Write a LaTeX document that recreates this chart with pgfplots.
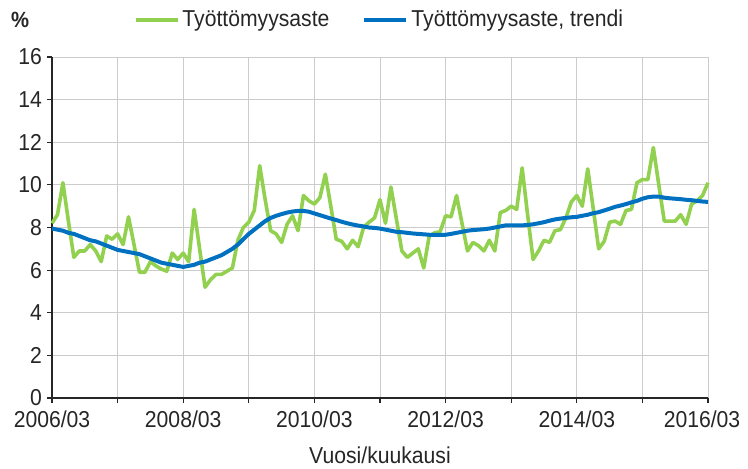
\documentclass[border=0pt]{standalone}
\usepackage{fontspec}
\setmainfont{Liberation Sans}[FakeStretch=0.92]
\usepackage{pgfplots}
\pgfplotsset{compat=1.18}
\usepackage{pgfplotstable}
\definecolor{ugreen}{HTML}{92D050}
\definecolor{ublue}{HTML}{0070C0}
\pgfplotstableread{
i u t
0 8.2 7.95
1 8.6 7.9
2 10.1 7.85
3 8.3 7.75
4 6.6 7.7
5 6.9 7.6
6 6.9 7.5
7 7.2 7.4
8 6.9 7.35
9 6.4 7.25
10 7.6 7.15
11 7.45 7.05
12 7.7 6.95
13 7.2 6.9
14 8.5 6.85
15 7.2 6.8
16 5.9 6.75
17 5.9 6.65
18 6.4 6.55
19 6.2 6.45
20 6.05 6.35
21 5.95 6.3
22 6.8 6.25
23 6.5 6.2
24 6.8 6.15
25 6.4 6.2
26 8.85 6.25
27 7.0 6.35
28 5.2 6.4
29 5.55 6.5
30 5.8 6.6
31 5.8 6.7
32 5.95 6.85
33 6.1 7.0
34 7.4 7.2
35 8.0 7.45
36 8.25 7.7
37 8.8 7.9
38 10.9 8.1
39 9.3 8.3
40 7.85 8.45
41 7.7 8.55
42 7.3 8.63
43 8.15 8.7
44 8.55 8.75
45 7.85 8.78
46 9.5 8.78
47 9.25 8.74
48 9.1 8.66
49 9.4 8.58
50 10.5 8.5
51 9.0 8.42
52 7.45 8.35
53 7.35 8.27
54 7.0 8.2
55 7.4 8.14
56 7.1 8.09
57 8.0 8.05
58 8.25 8.0
59 8.45 7.98
60 9.3 7.95
61 8.2 7.9
62 9.9 7.85
63 8.4 7.8
64 6.9 7.78
65 6.6 7.75
66 6.8 7.72
67 7.0 7.7
68 6.1 7.68
69 7.6 7.66
70 7.75 7.65
71 7.8 7.65
72 8.55 7.66
73 8.5 7.7
74 9.5 7.75
75 8.2 7.8
76 6.9 7.85
77 7.3 7.88
78 7.15 7.9
79 6.9 7.92
80 7.4 7.95
81 6.9 8.0
82 8.7 8.05
83 8.8 8.1
84 9.0 8.1
85 8.85 8.1
86 10.8 8.1
87 8.6 8.12
88 6.5 8.15
89 6.9 8.2
90 7.4 8.25
91 7.3 8.32
92 7.85 8.38
93 7.9 8.42
94 8.45 8.45
95 9.2 8.48
96 9.5 8.5
97 9.0 8.55
98 10.75 8.6
99 8.9 8.67
100 7.0 8.72
101 7.35 8.8
102 8.25 8.88
103 8.3 8.97
104 8.15 9.03
105 8.8 9.1
106 8.85 9.18
107 10.1 9.25
108 10.25 9.35
109 10.25 9.42
110 11.75 9.45
111 10.0 9.45
112 8.3 9.4
113 8.3 9.37
114 8.3 9.35
115 8.6 9.33
116 8.15 9.3
117 9.1 9.28
118 9.25 9.25
119 9.5 9.22
120 10.1 9.2
}\data
\begin{document}
\fontsize{11.5}{13}\selectfont
\begin{tikzpicture}
\path[use as bounding box] (0,0) rectangle (374pt,234pt);
\begin{axis}[
  at={(26pt,35pt)}, anchor=south west,
  scale only axis, width=328pt, height=170.5pt,
  xmin=0, xmax=120, ymin=0, ymax=16,
  xtick={0,12,...,120},
  xticklabels={2006/03,,2008/03,,2010/03,,2012/03,,2014/03,,{\hspace*{-6pt}2016/03}},
  ytick={0,2,...,16},
  axis x line*=bottom, axis y line*=left,
  axis line style={-, black!85, line width=0.7pt},
  grid=major, major grid style={black!20, line width=0.5pt},
  tick align=outside, major tick length=2.5pt,
  tick style={black!85, line width=0.6pt},
  /pgf/number format/assume math mode=true,
  ticklabel style={font=\fontsize{11.5}{13}\selectfont, text=black!85},
  yticklabel style={xshift=1.5pt},
  xlabel={Vuosi/kuukausi},
  xlabel style={at={(axis description cs:0.5,-0.167)}, anchor=center, font=\fontsize{11.5}{13}\selectfont, text=black!85},
  legend style={at={(0.5,1.108)}, anchor=center, draw=none, fill=none,
    legend columns=2, font=\fontsize{11.5}{13}\selectfont, text=black!85,
    nodes={inner xsep=1.5pt},
    /tikz/every even column/.append style={column sep=15pt},
    inner sep=0pt},
  legend image code/.code={\draw[#1] (0pt,0pt) -- (21pt,0pt);},
  clip=false,
]
\addplot[ugreen, line width=1.8pt, line join=round] table[x=i, y=u] {\data};
\addlegendentry{Työttömyysaste}
\addplot[ublue, line width=2pt, line join=round] table[x=i, y=t] {\data};
\addlegendentry{Työttömyysaste, trendi}
\end{axis}
\node[font=\bfseries\fontsize{11}{13}\selectfont, text=black!85] at (10pt,224pt) {\%};
\end{tikzpicture}
\end{document}
